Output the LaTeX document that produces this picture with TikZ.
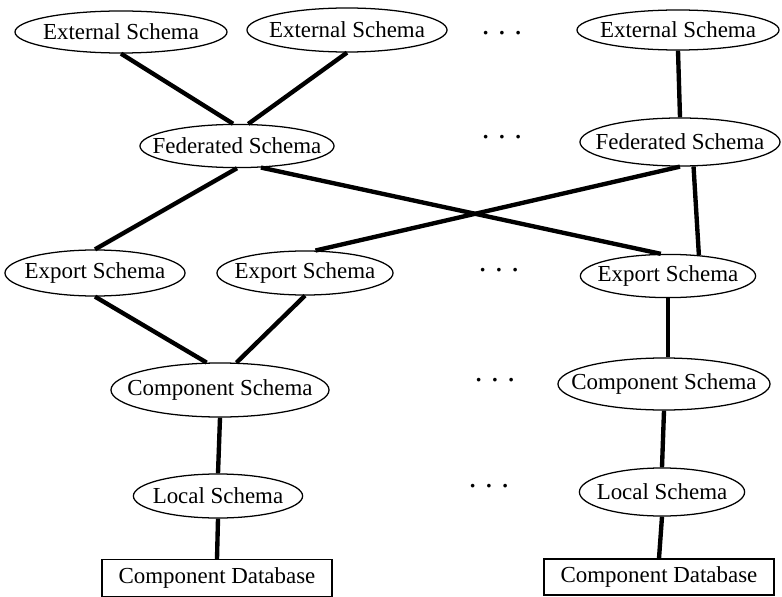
\documentclass[tikz,border=0pt]{standalone}
\usepackage{fontspec}
\setmainfont{Liberation Serif}
\usetikzlibrary{shapes.geometric}

\tikzset{
	schema/.style={shape=ellipse, draw, line width=0.9pt, inner sep=0pt, minimum height=1.1cm},
	dbbox/.style={shape=rectangle, draw, line width=0.9pt, inner sep=0pt, minimum width=5.75cm, minimum height=0.92cm},
	dotrow/.style={inner sep=0pt, font=\fontsize{22}{22}\selectfont},
	link/.style={line width=3.1pt},
}
\newcommand{\schemaname}[1]{\makebox[0pt]{#1}}

\begin{document}
\begin{tikzpicture}[x=0.025cm, y=-0.025cm, font=\fontsize{16.3}{19}\selectfont]
	\useasboundingbox (0,0) rectangle (782,597);

	\node (ext1) at (121,32) [schema, minimum width=5.3cm, minimum height=1.05cm] {\schemaname{External Schema}};
	\node (ext2) at (347,30) [schema, minimum width=5.0cm] {\schemaname{External Schema}};
	\node (ext3) at (678,30) [schema, minimum width=5.05cm, minimum height=1.0cm] {\schemaname{External Schema}};

	\node (fed1) at (237,146) [schema, minimum width=4.85cm, minimum height=1.08cm] {\schemaname{Federated Schema}};
	\node (fed2) at (680,142) [schema, minimum width=5.0cm, minimum height=1.2cm] {\schemaname{Federated Schema}};

	\node (exp1) at (95,273) [schema, minimum width=4.5cm, minimum height=1.15cm] {\schemaname{Export Schema}};
	\node (exp2) at (305,273) [schema, minimum width=4.4cm] {\schemaname{Export Schema}};
	\node (exp3) at (668,276) [schema, minimum width=4.38cm, minimum height=1.08cm] {\schemaname{Export Schema}};

	\node (comp1) at (220,390) [schema, minimum width=5.45cm, minimum height=1.35cm] {\schemaname{Component Schema}};
	\node (comp2) at (664,384) [schema, minimum width=5.3cm, minimum height=1.3cm] {\schemaname{Component Schema}};

	\node (loc1) at (218,496) [schema, minimum width=4.23cm] {\schemaname{Local Schema}};
	\node (loc2) at (662,492) [schema, minimum width=4.13cm, minimum height=1.2cm] {\schemaname{Local Schema}};

	\node (db1) at (217,578) [dbbox] {Component Database};
	\node (db2) at (659,577) [dbbox, minimum height=0.9cm] {Component Database};

	\node (dotsA) at (502,33) [dotrow] {.\hspace{6pt}.\hspace{6pt}.};
	\node (dotsB) at (502,137) [dotrow] {.\hspace{6pt}.\hspace{6pt}.};
	\node (dotsC) at (499,270) [dotrow] {.\hspace{6pt}.\hspace{6pt}.};
	\node (dotsD) at (495,380) [dotrow] {.\hspace{6pt}.\hspace{6pt}.};
	\node (dotsE) at (489,486) [dotrow] {.\hspace{6pt}.\hspace{6pt}.};

	\draw [link] (ext1.south) -- (fed1.100);
	\draw [link] (ext2.south) -- (fed1.63);
	\draw [link] (ext3.south) -- (fed2.north);
	\draw [link] (fed1.south) -- (exp1.north);
	\draw [link] (fed1.-42) -- (exp3.108);
	\draw [link] (fed2.south) -- (exp2.65);
	\draw [link] (fed2.-61) -- (exp3.34);
	\draw [link] (exp1.south) -- (comp1.116);
	\draw [link] (exp2.south) -- (comp1.59);
	\draw [link] (exp3.south) -- (exp3.south |- comp2.north);
	\draw [link] (comp1.south) -- (loc1.north);
	\draw [link] (loc1.south) -- (db1.north);
	\draw [link] (comp2.south) -- (loc2.north);
	\draw [link] (loc2.south) -- (db2.north);
\end{tikzpicture}
\end{document}
